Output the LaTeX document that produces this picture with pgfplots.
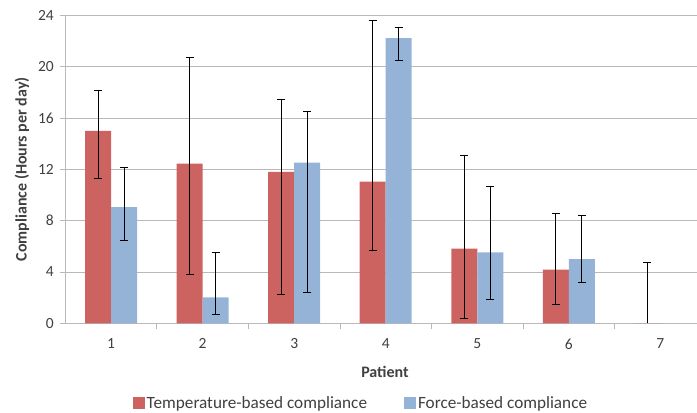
\documentclass[border=0pt]{standalone}
\usepackage{pgfplots}
\pgfplotsset{compat=1.18}
\usepackage{pgfplotstable}
\usepackage{fontspec}
\setmainfont{Carlito}
\definecolor{redbar}{RGB}{205,99,97}
\definecolor{bluebar}{RGB}{149,179,215}
\definecolor{txt}{RGB}{64,64,64}
\definecolor{gridc}{RGB}{185,185,185}
\pgfplotstableread{
x y ep em
1 15.00 3.18 3.68
2 12.44 8.26 8.60
3 11.79 5.64 9.56
4 11.04 12.56 5.33
5 5.82 7.30 5.46
6 4.18 4.37 2.67
}\temp
\pgfplotstableread{
x y ep
7 0 4.78
}\tempseven
\pgfplotstableread{
x y ep em
1 9.06 3.12 2.59
2 2.03 3.48 1.30
3 12.52 3.97 10.10
4 22.23 0.81 1.71
5 5.53 5.15 3.66
6 5.01 3.41 1.84
}\force
\begin{document}
\begin{tikzpicture}
\begin{axis}[
  scale only axis,
  width=631.7pt, height=308pt,
  ybar=0pt, bar width=26pt,
  xmin=0.5, xmax=7.4, ymin=0, ymax=24,
  ytick={0,4,...,24},
  xtick={1,...,7},
  minor xtick={1.5,2.5,...,6.5},
  axis x line*=bottom, axis y line*=left,
  axis line style={gridc, line width=0.8pt, -},
  tick align=outside,
  major x tick style={draw=none},
  minor x tick style={gridc, line width=0.8pt},
  minor tick length=6pt,
  major y tick style={gridc, line width=0.8pt},
  major tick length=5pt,
  ymajorgrids,
  major grid style={gridc, line width=0.8pt},
  tick label style={font=\fontsize{15.5}{18}\selectfont, text=txt},
  /pgf/number format/assume math mode=true,
  yticklabel style={xshift=-3pt},
  xticklabel style={yshift=-7pt},
  xlabel={Patient},
  ylabel={Compliance (Hours per day)},
  label style={font=\bfseries\fontsize{16}{18}\selectfont, text=txt},
  xlabel style={at={(axis description cs:0.506,-0.158)}, anchor=center},
  ylabel style={at={(axis description cs:-0.0685,0.5)}, anchor=center},
  legend style={at={(axis description cs:0.468,-0.259)}, anchor=center, draw=none,
    font=\fontsize{17.2}{20}\selectfont, text=txt,
    /tikz/every even column/.append style={column sep=35pt}},
  legend columns=2,
  legend image code/.code={\fill[#1] (0pt,-6pt) rectangle (12pt,6pt);},
]
\addplot[fill=redbar, draw=none,
  error bars/.cd, y dir=both, y explicit,
  error bar style={black, line width=0.7pt},
  error mark options={rotate=90, mark size=4pt, black, line width=0.7pt}]
  table[x=x, y=y, y error plus=ep, y error minus=em] {\temp};
\addplot[fill=bluebar, draw=none,
  error bars/.cd, y dir=both, y explicit,
  error bar style={black, line width=0.7pt},
  error mark options={rotate=90, mark size=4pt, black, line width=0.7pt}]
  table[x=x, y=y, y error plus=ep, y error minus=em] {\force};
\legend{Temperature-based compliance, Force-based compliance}
\addplot[forget plot, fill=redbar, draw=none, bar shift=-13pt,
  error bars/.cd, y dir=plus, y explicit,
  error bar style={black, line width=0.7pt},
  error mark options={rotate=90, mark size=4pt, black, line width=0.7pt}]
  table[x=x, y=y, y error plus=ep] {\tempseven};
\end{axis}
\pgfresetboundingbox
\path ([shift={(-65.3pt,-88.7pt)}]current axis.south west) rectangle ([yshift=15.3pt]current axis.north east);
\end{tikzpicture}
\end{document}
